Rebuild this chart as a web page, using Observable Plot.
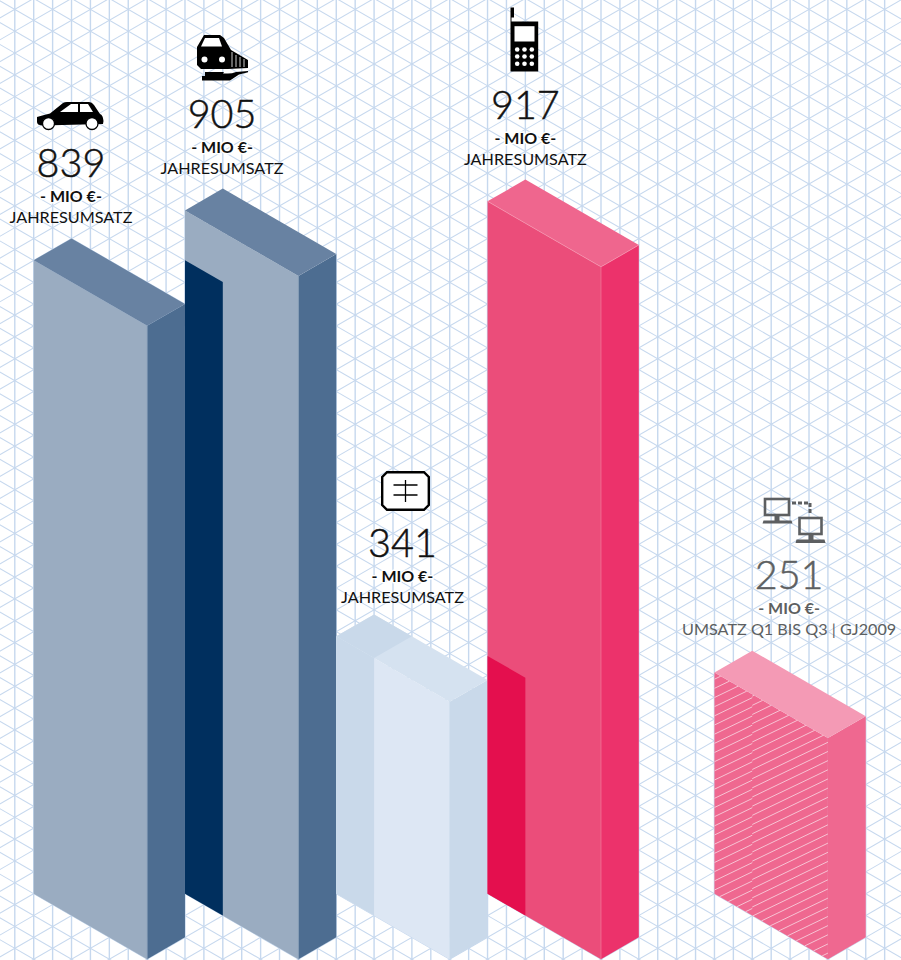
<!DOCTYPE html>
<html lang="de">
<head>
<meta charset="utf-8">
<title>Umsatz</title>
<style>
html,body{margin:0;padding:0;background:#fff}
svg text{font-family:Lato,sans-serif}
</style>
<script src="https://cdn.jsdelivr.net/npm/d3@7"></script>
<script src="https://cdn.jsdelivr.net/npm/@observablehq/plot@0.6"></script>
</head>
<body>
<div id="chart"></div>
<script>
// ---- data ----
const labelNumbers = [839, 905, 341, 917, 251];
const boxHeights   = [839, 905, 341, 917, 293];   // drawn height, Mio €
const captions = ["JAHRESUMSATZ","JAHRESUMSATZ","JAHRESUMSATZ","JAHRESUMSATZ","UMSATZ Q1 BIS Q3 | GJ2009"];
const unitLabel = "- MIO €-";
// footprint of each box on the isometric grid (grid cells)
const aStart = [0, 4,  8, 12, 18];
const aEnd   = [6, 10, 14, 18, 24];
const bStart = [0, 4,  8, 12, 18];
const depth  = 2;
// darker inset at the start of the long face: its length and height
const insetLength = [0, 2, 2, 2, 0];
const insetHeight = [0, 839, 341, 315, 0];
// palettes: front, side, roof, inset
const fronts = ["#9aacc1","#9aacc1","#dde7f4","#eb4d7a","#ef6890"];
const sides  = ["#4d6d91","#4d6d91","#c9d9ea","#ec326b","#ef6890"];
const roofs  = ["#6882a2","#6882a2","#d5e2f0","#ef668e","#f49ab5"];
const insets = ["#002f5e","#002f5e","#c9d9ea","#e40f4e","#ef6890"];
const textColors = ["#111","#111","#111","#111","#5d5f61"];
// label anchor: grid cell (x) and Mio-€ level (y) of the caption baseline
const labelCell  = [1.97, 9.96, 19.5, 26, 39.95];
const labelLevel = [888, 953, 385, 965, 342.6];
// hatching of the partial-year box
const hatchStart = 4.9, hatchStep = 12.14, hatchRise = 26.5, hatchJog = 2;

// ---- isometric projection into the plot's two data dimensions ----
const U = 18.91, V = U * Math.tan(Math.PI / 6), K = 0.755, X0 = 33.2, Y0 = 893.2;
const W = 901, H = 960;
const gx = (a, b) => a + b;
const gy = (a, b, h) => h - (a - b) * V / K;

const polys = [];
function poly(id, color, pts) {
  for (const [a, b, h] of pts) polys.push({id, color, x: gx(a, b), y: gy(a, b, h)});
}
const edges = [];
function edge(id, color, pts) {
  for (const [a, b, h] of pts) edges.push({id, color, x: gx(a, b), y: gy(a, b, h)});
}
boxHeights.forEach((h, i) => {
  const a0 = aStart[i], a1 = aEnd[i], b0 = bStart[i], b1 = b0 + depth;
  poly(`f${i}`, fronts[i], [[a0,b0,0],[a1,b0,0],[a1,b0,h],[a0,b0,h]]);
  poly(`s${i}`, sides[i],  [[a1,b0,0],[a1,b1,0],[a1,b1,h],[a1,b0,h]]);
  poly(`r${i}`, roofs[i],  [[a0,b0,h],[a1,b0,h],[a1,b1,h],[a0,b1,h]]);
  if (insetLength[i]) {
    const am = a0 + insetLength[i], ih = insetHeight[i];
    poly(`i${i}`, insets[i], [[a0,b0,0],[am,b0,0],[am,b0,ih],[a0,b0,ih]]);
    if (ih === h) poly(`ir${i}`, insets[i], [[a0,b0,h],[am,b0,h],[am,b1,h],[a0,b1,h]]);
  }
  // thin light seam where the faces meet (pink tower roof, blue towers' corner)
  if (i === 3) edge(`e${i}`, "#f692ae", [[a0,b0,h],[a1,b0,h],[a1,b1,h]]);
  if (i < 2) edge(`v${i}`, "#8aa0b8", [[a1,b0,h],[a1,b0,0]]);
  if (i === 3) edge(`v${i}`, "#f27a9c", [[a1,b0,h],[a1,b0,0]]);
});

// hatching, limited to the long face of the last box
const hatch = [];
{
  const a0 = aStart[4], b0 = bStart[4], top = boxHeights[4], len = aEnd[4] - a0;
  for (let n = -14; n < 26; n++) {
    const h0 = hatchStart + n * hatchStep;
    const seg = (s, e, off) => {
      const hAt = t => h0 + off + t * hatchRise;
      let t0 = Math.max(s, (0 - h0 - off) / hatchRise), t1 = Math.min(e, (top - h0 - off) / hatchRise);
      if (t1 > t0) hatch.push({x1: gx(a0+t0,b0), y1: gy(a0+t0,b0,hAt(t0)), x2: gx(a0+t1,b0), y2: gy(a0+t1,b0,hAt(t1))});
    };
    seg(0, 2, 0); seg(2, len, hatchJog);
  }
}

// isometric background grid
const verticals = d3.range(-2, 47);
const gridLines = [];
for (const c of d3.range(-60, 100)) {
  gridLines.push({x1: gx(c,-60), y1: gy(c,-60,0), x2: gx(c,100), y2: gy(c,100,0)});
  gridLines.push({x1: gx(-60,c), y1: gy(-60,c,0), x2: gx(100,c), y2: gy(100,c,0)});
}

// pictograms
const svgUri = (w, h, body) => "data:image/svg+xml," + encodeURIComponent(
  `<svg xmlns="http://www.w3.org/2000/svg" width="${w}" height="${h}" viewBox="0 0 ${w} ${h}">${body}</svg>`);
const wheel = cx => `<circle cx="${cx}" cy="28.5" r="6" fill="#fff" stroke="#000" stroke-width="1.3"/>`;
const carIcon = svgUri(80, 40, `<path d="M7,22 Q13,20 20,18.5 L33,8 Q34.5,7 37,7 L59,7 Q62,7 64,10 L70,19 Q73,20 73.5,26 L73,29 L12,30.5 Q7,30 7,27Z"/>
<path fill="#fff" d="M30,17 L41,9 L48,9 L48,17Z M50,9 L58,9 L63,17 L50,17Z"/>${wheel(18.5)}${wheel(62)}`);
const trainIcon = svgUri(65, 55, `<path d="M14,5 L30,5 L34,8 L41,20 L58,30 L58,38 L38,39 L11,39 L7,35 L7,17Z"/>
<path fill="#fff" d="M15,8 L29,8 L32,16.5 L11,16.5Z"/><circle cx="14.5" cy="29.5" r="3" fill="#fff"/><circle cx="32" cy="29.5" r="3" fill="#fff"/>
<path stroke="#fff" stroke-width=".8" d="M42,22 V37 M46,25 V37 M50,27 V37 M54,29 V37"/>
<path d="M15,42 L34,42 L33,43.5 L38,43.5 Q42,43.5 46,42 L58,41 L58,42.3 L49,44.5 L40,50.5 L12,50.5 L12,46 L15,46Z"/>`);
const phoneIcon = svgUri(40, 70, `<path d="M5,2 H8.5 V12 H6 V16 H32.7 V66 H5Z"/><rect x="9" y="20.7" width="20" height="15.3" fill="#fff"/>
${[11.7,19,26.3].flatMap(x=>[44,51,58.3].map(y=>`<circle cx="${x}" cy="${y}" r="2.3" fill="#fff"/>`)).join("")}`);
const chipIcon = svgUri(54, 44, `<path d="M8.5,3.2 H45.5 L50.3,8 V36 L45.5,40.8 H8.5 L3.7,36 V8Z" fill="#fff" stroke="#000" stroke-width="2.4"/>
<path stroke="#000" stroke-width="1.3" d="M15,16 H39 M15,26 H39 M27,11 V33"/>`);
const netIcon = svgUri(75, 60, `<g fill="none" stroke="#5d5f61" stroke-width="2.6"><rect x="9.5" y="8.5" width="24" height="16"/><rect x="44" y="27.5" width="22" height="16"/>
<path stroke-dasharray="4 2" stroke-width="3" d="M36.5,12.5 H54.5 V24"/></g>
<path fill="#5d5f61" d="M19,25 H24 V30 H36 L37,33 H7 L8,30 H19Z M53,44 H58 V49 H69 L70,52.5 H40 L41,49 H53Z"/>`);
const icons = [
  {src: carIcon,   x: 69.5,  y: 114.5, w: 80, h: 40},
  {src: trainIcon, x: 222, y: 57, w: 65, h: 55},
  {src: chipIcon,  x: 405, y: 490.5, w: 54, h: 44},
  {src: phoneIcon, x: 525, y: 40, w: 40, h: 70},
  {src: netIcon,   x: 792.5, y: 520, w: 75, h: 60}
].map(d => ({...d, cx: (d.x - X0) / U, cy: (Y0 - d.y) / K}));

const labels = labelNumbers.map((v, i) => ({
  v: String(v), unit: unitLabel, cap: captions[i], x: labelCell[i], y: labelLevel[i], c: textColors[i]
}));

const plot = Plot.plot({
  width: W, height: H, margin: 0,
  style: {background: "#fff", fontFamily: "Lato, sans-serif"},
  x: {domain: [-X0 / U, (W - X0) / U], range: [0, W], axis: null},
  y: {domain: [-(H - Y0) / K, Y0 / K], range: [H, 0], axis: null},
  color: {type: "identity"},
  marks: [
    Plot.ruleX(verticals, {stroke: "#c6d8ee", strokeWidth: 1.4}),
    Plot.link(gridLines, {x1: "x1", y1: "y1", x2: "x2", y2: "y2", stroke: "#c6d8ee", strokeWidth: 1.05, clip: true}),
    Plot.line(polys, {x: "x", y: "y", z: "id", fill: "color", stroke: "none"}),
    Plot.line(edges, {x: "x", y: "y", z: "id", stroke: "color", strokeWidth: 0.7}),
    Plot.link(hatch, {x1: "x1", y1: "y1", x2: "x2", y2: "y2", stroke: "#f7c3d4", strokeWidth: 1}),
    Plot.image(icons, {x: "cx", y: "cy", src: "src", width: "w", height: "h"}),
    Plot.text(labels, {x: "x", y: "y", dy: -46, text: "v", fill: "c", stroke: "c", strokeWidth: 0.5, fontSize: 39.5, fontWeight: 300, lineAnchor: "bottom"}),
    Plot.text(labels, {x: "x", y: "y", dy: -21.5, text: "unit", fill: "c", fontSize: 16, fontWeight: 700, lineAnchor: "bottom", stroke: "#fff", strokeWidth: 3, paintOrder: "stroke"}),
    Plot.text(labels, {x: "x", y: "y", text: "cap", fill: "c", fontSize: 16.2, lineAnchor: "bottom"})
  ]
});
document.getElementById("chart").appendChild(plot);
</script>
</body>
</html>
